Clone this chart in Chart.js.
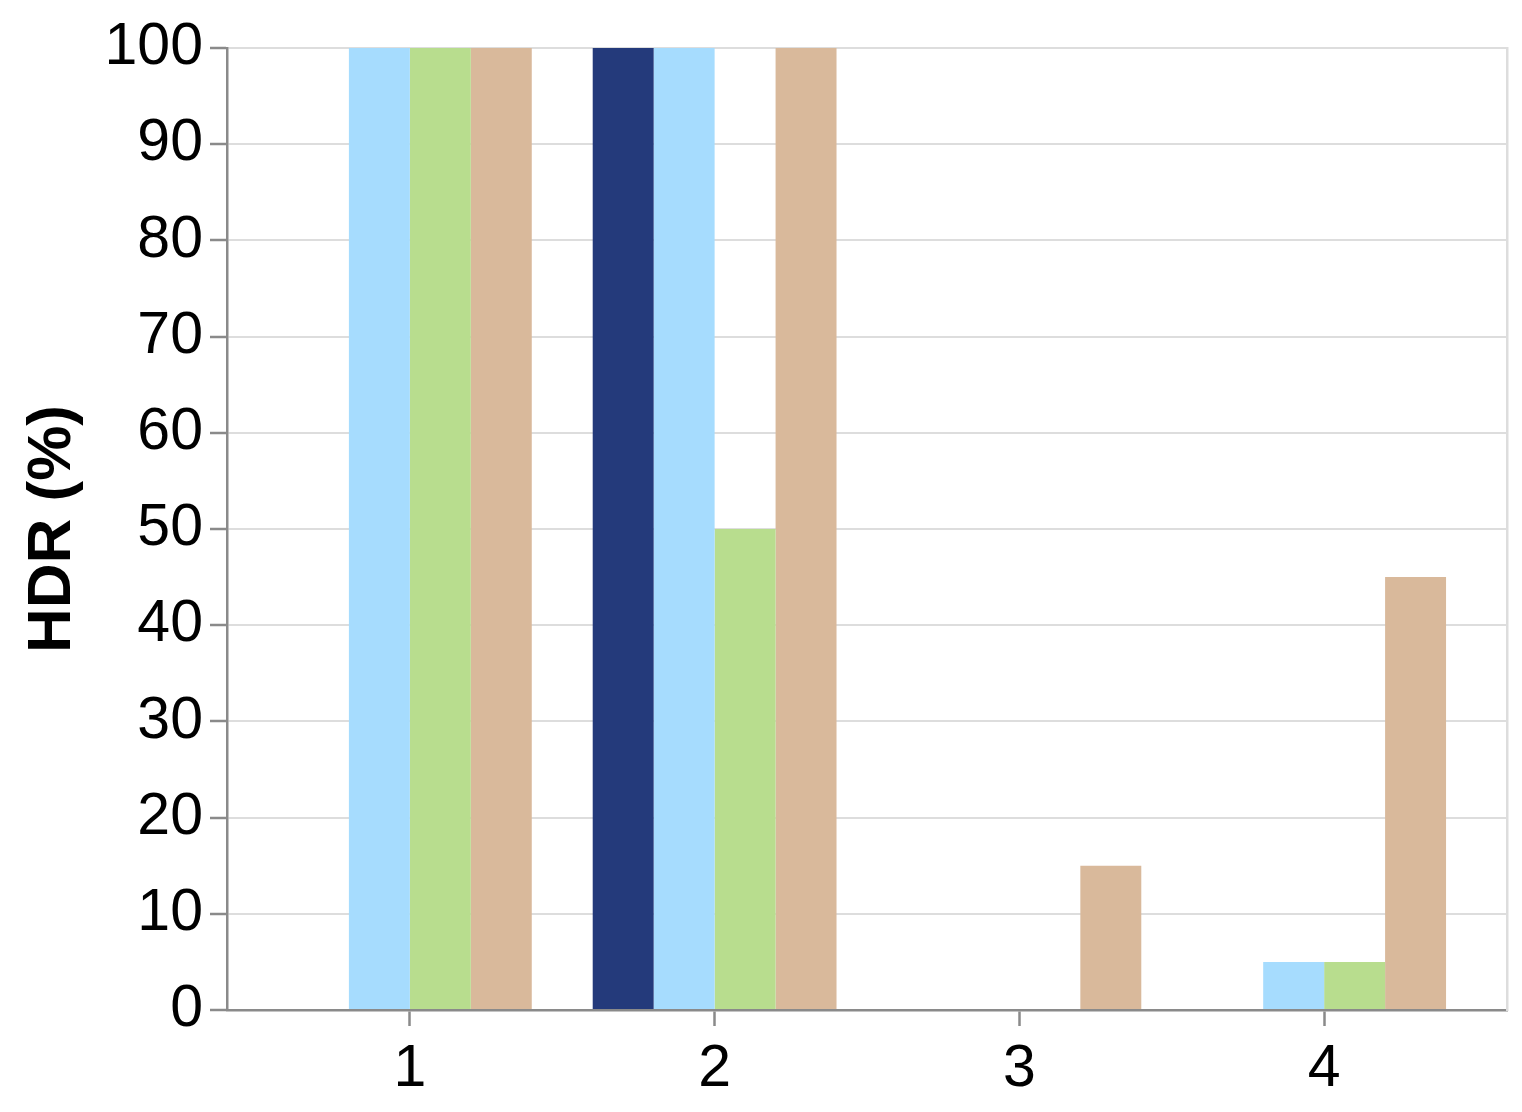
<!DOCTYPE html>
<html>
<head>
<meta charset="utf-8">
<script src="https://cdn.jsdelivr.net/npm/chart.js@4/dist/chart.umd.min.js"></script>
<style>
  html, body { margin: 0; padding: 0; background: #fff; }
  #wrap { width: 1522px; height: 1112px; }
</style>
</head>
<body>
<div id="wrap"><canvas id="hdrChart"></canvas></div>
<script>
const categories = [1, 2, 3, 4];
const navyValues = [0, 100, 0, 0];
const blueValues = [100, 100, 0, 5];
const greenValues = [100, 50, 0, 5];
const tanValues = [100, 100, 15, 45];

Chart.defaults.font.family = '"Liberation Sans", Arial, sans-serif';
Chart.defaults.color = '#000';

const toPoints = vals => categories.map((c, i) => ({ x: c, y: vals[i] }));

const axisGray = '#8a8a8a';

const hdrCtx = document.getElementById('hdrChart').getContext('2d');
const hdrChart = new Chart(hdrCtx, {
    type: 'bar',
    data: {
        datasets: [
            { data: toPoints(navyValues), backgroundColor: '#243a7b' },
            { data: toPoints(blueValues), backgroundColor: '#a6dcfe' },
            { data: toPoints(greenValues), backgroundColor: '#b8dd8e' },
            { data: toPoints(tanValues), backgroundColor: '#d9b99b' }
        ]
    },
    options: {
        responsive: true,
        maintainAspectRatio: false,
        animation: false,
        layout: { padding: { top: 48, right: 7, left: 0, bottom: 0 } },
        datasets: { bar: { categoryPercentage: 0.8, barPercentage: 1.0 } },
        plugins: { legend: { display: false }, tooltip: { enabled: false } },
        scales: {
            x: {
                type: 'linear',
                min: 0.4,
                max: 4.6,
                offset: false,
                afterBuildTicks: scale => {
                    scale.ticks = categories.map(v => ({ value: v }));
                },
                afterFit: scale => { scale.height = 102; },
                ticks: { font: { size: 59 }, padding: 8, maxRotation: 0 },
                grid: {
                    offset: false,
                    drawOnChartArea: false,
                    drawTicks: true,
                    tickLength: 16,
                    tickColor: axisGray,
                    tickWidth: 2.5
                },
                border: { color: axisGray, width: 2.5 }
            },
            y: {
                min: 0,
                max: 100,
                ticks: { stepSize: 10, font: { size: 59 }, padding: 7 },
                afterFit: scale => { scale.width = 227; },
                title: {
                    display: true,
                    text: 'HDR (%)',
                    font: { size: 62, weight: 'bold' },
                    padding: { top: 16, bottom: 0 }
                },
                grid: {
                    color: '#dddddd',
                    lineWidth: 2,
                    tickLength: 17,
                    tickColor: axisGray,
                    tickWidth: 2.5
                },
                border: { color: axisGray, width: 2.5 }
            },
            yRight: {
                position: 'right',
                min: 0,
                max: 100,
                ticks: { display: false },
                grid: { display: false },
                border: { display: true, color: '#dddddd', width: 2.5 }
            }
        }
    }
});
</script>
</body>
</html>
